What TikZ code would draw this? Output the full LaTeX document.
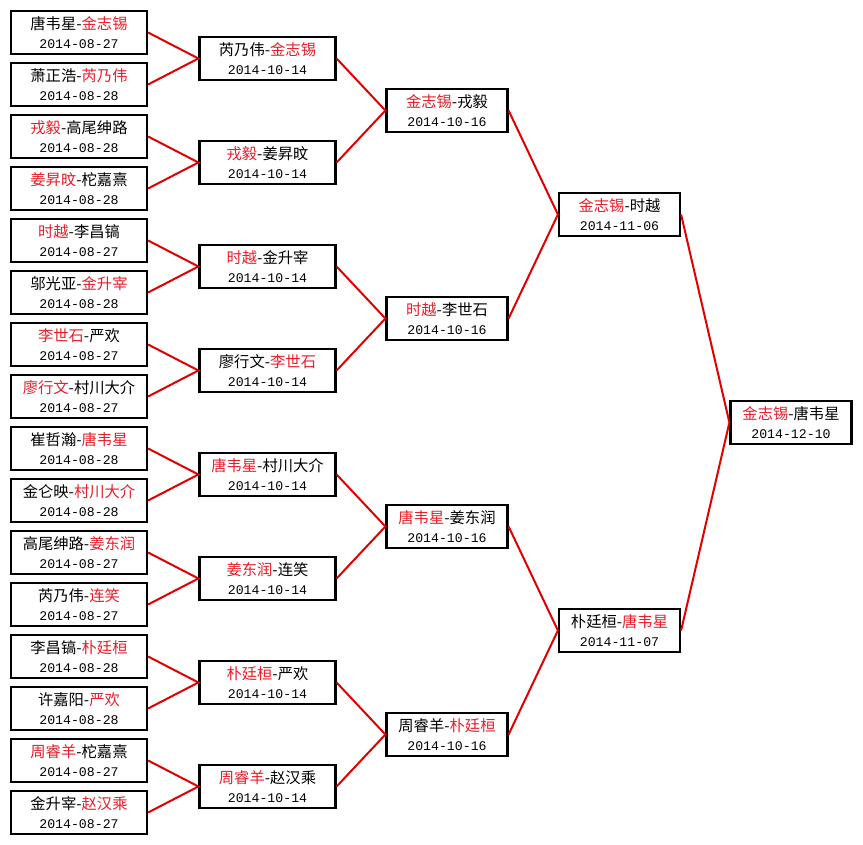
\documentclass[tikz,border=0pt]{standalone}
\usepackage{fontspec}
\newfontfamily\cjk{Noto Sans CJK SC}
\newfontfamily\datefont{Liberation Mono}
\definecolor{winred}{RGB}{230,30,40}
\definecolor{linkred}{RGB}{225,0,0}
\newcommand{\win}[1]{\textcolor{winred}{#1}}
\newcommand{\dt}[1]{{\datefont\fontsize{13.2}{19}\selectfont #1}}

\begin{document}
\begin{tikzpicture}[x=1pt,y=-1pt,
  game/.style={draw=black,line width=2.2pt,fill=white,inner sep=0pt,align=center,
    minimum height=43pt,font=\cjk\fontsize{15.3}{19}\selectfont},
  wide/.style={game,minimum width=136pt},
  narrow/.style={game,minimum width=121pt},
  link/.style={linkred,line width=2pt}]
\useasboundingbox (0,0) rectangle (863,845);

% first round
\node[wide] (a1) at (79,32.5) {唐韦星-\win{金志锡}\\\dt{2014-08-27}};
\node[wide] (a2) at (79,84.5) {萧正浩-\win{芮乃伟}\\\dt{2014-08-28}};
\node[wide] (a3) at (79,136.5) {\win{戎毅}-高尾绅路\\\dt{2014-08-28}};
\node[wide] (a4) at (79,188.5) {\win{姜昇旼}-柁嘉熹\\\dt{2014-08-28}};
\node[wide] (a5) at (79,240.5) {\win{时越}-李昌镐\\\dt{2014-08-27}};
\node[wide] (a6) at (79,292.5) {邬光亚-\win{金升宰}\\\dt{2014-08-28}};
\node[wide] (a7) at (79,344.5) {\win{李世石}-严欢\\\dt{2014-08-27}};
\node[wide] (a8) at (79,396.5) {\win{廖行文}-村川大介\\\dt{2014-08-27}};
\node[wide] (a9) at (79,448.5) {崔哲瀚-\win{唐韦星}\\\dt{2014-08-28}};
\node[wide] (a10) at (79,500.5) {金仑映-\win{村川大介}\\\dt{2014-08-28}};
\node[wide] (a11) at (79,552.5) {高尾绅路-\win{姜东润}\\\dt{2014-08-27}};
\node[wide] (a12) at (79,604.5) {芮乃伟-\win{连笑}\\\dt{2014-08-27}};
\node[wide] (a13) at (79,656.5) {李昌镐-\win{朴廷桓}\\\dt{2014-08-28}};
\node[wide] (a14) at (79,708.5) {许嘉阳-\win{严欢}\\\dt{2014-08-28}};
\node[wide] (a15) at (79,760.5) {\win{周睿羊}-柁嘉熹\\\dt{2014-08-27}};
\node[wide] (a16) at (79,812.5) {金升宰-\win{赵汉乘}\\\dt{2014-08-27}};

% second round
\node[wide] (b1) at (267.5,58.5) {芮乃伟-\win{金志锡}\\\dt{2014-10-14}};
\node[wide] (b2) at (267.5,162.5) {\win{戎毅}-姜昇旼\\\dt{2014-10-14}};
\node[wide] (b3) at (267.5,266.5) {\win{时越}-金升宰\\\dt{2014-10-14}};
\node[wide] (b4) at (267.5,370.5) {廖行文-\win{李世石}\\\dt{2014-10-14}};
\node[wide] (b5) at (267.5,474.5) {\win{唐韦星}-村川大介\\\dt{2014-10-14}};
\node[wide] (b6) at (267.5,578.5) {\win{姜东润}-连笑\\\dt{2014-10-14}};
\node[wide] (b7) at (267.5,682.5) {\win{朴廷桓}-严欢\\\dt{2014-10-14}};
\node[wide] (b8) at (267.5,786.5) {\win{周睿羊}-赵汉乘\\\dt{2014-10-14}};

% quarter finals
\node[narrow] (c1) at (447,110.5) {\win{金志锡}-戎毅\\\dt{2014-10-16}};
\node[narrow] (c2) at (447,318.5) {\win{时越}-李世石\\\dt{2014-10-16}};
\node[narrow] (c3) at (447,526.5) {\win{唐韦星}-姜东润\\\dt{2014-10-16}};
\node[narrow] (c4) at (447,734.5) {周睿羊-\win{朴廷桓}\\\dt{2014-10-16}};

% semi finals and final
\node[narrow] (d1) at (619.5,214.5) {\win{金志锡}-时越\\\dt{2014-11-06}};
\node[narrow] (d2) at (619.5,630.5) {朴廷桓-\win{唐韦星}\\\dt{2014-11-07}};
\node[narrow] (e) at (791,422.5) {\win{金志锡}-唐韦星\\\dt{2014-12-10}};

\draw[link] (a1.east) -- (b1.west) -- (a2.east);
\draw[link] (a3.east) -- (b2.west) -- (a4.east);
\draw[link] (a5.east) -- (b3.west) -- (a6.east);
\draw[link] (a7.east) -- (b4.west) -- (a8.east);
\draw[link] (a9.east) -- (b5.west) -- (a10.east);
\draw[link] (a11.east) -- (b6.west) -- (a12.east);
\draw[link] (a13.east) -- (b7.west) -- (a14.east);
\draw[link] (a15.east) -- (b8.west) -- (a16.east);

\draw[link] (b1.east) -- (c1.west) -- (b2.east);
\draw[link] (b3.east) -- (c2.west) -- (b4.east);
\draw[link] (b5.east) -- (c3.west) -- (b6.east);
\draw[link] (b7.east) -- (c4.west) -- (b8.east);

\draw[link] (c1.east) -- (d1.west) -- (c2.east);
\draw[link] (c3.east) -- (d2.west) -- (c4.east);

\draw[link] (d1.east) -- (e.west) -- (d2.east);
\end{tikzpicture}
\end{document}
